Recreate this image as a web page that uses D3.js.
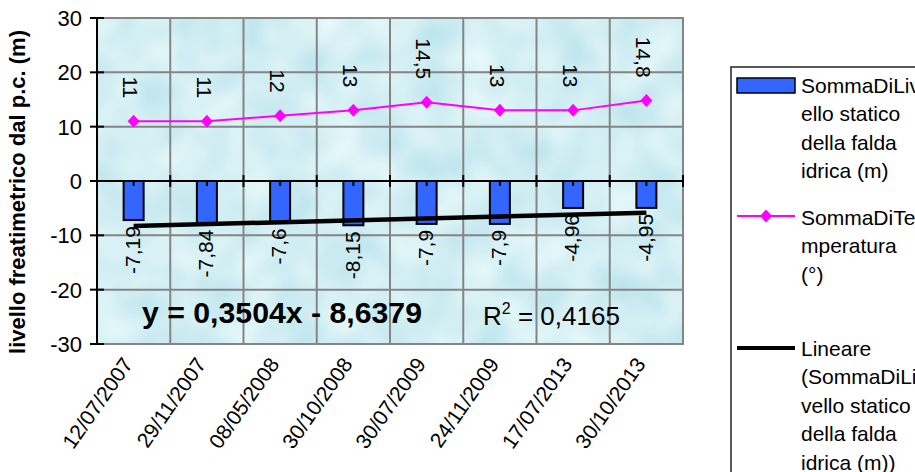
<!DOCTYPE html>
<html>
<head>
<meta charset="utf-8">
<script src="https://cdn.jsdelivr.net/npm/d3@7/dist/d3.min.js"></script>
<style>
  html, body { margin: 0; padding: 0; background: #fff; }
  svg { display: block; font-family: "Liberation Sans", Arial, sans-serif; }
</style>
</head>
<body>
<svg id="chart" width="915" height="472"></svg>
<script>
const categories = ["12/07/2007", "29/11/2007", "08/05/2008", "30/10/2008", "30/07/2009", "24/11/2009", "17/07/2013", "30/10/2013"];
const livello = [-7.19, -7.84, -7.6, -8.15, -7.9, -7.9, -4.96, -4.95];
const temperatura = [11, 11, 12, 13, 14.5, 13, 13, 14.8];
const livelloLabels = ["-7,19", "-7,84", "-7,6", "-8,15", "-7,9", "-7,9", "-4,96", "-4,95"];
const temperaturaLabels = ["11", "11", "12", "13", "14,5", "13", "13", "14,8"];
const yTicks = [-30, -20, -10, 0, 10, 20, 30];
const trendSlope = 0.3504;
const trendIntercept = -8.6379;
const equationText = "y = 0,3504x - 8,6379";
const r2Value = "0,4165";
const yTitle = "livello freatimetrico dal p.c. (m)";
const legendItems = [
  { type: "bar", lines: ["SommaDiLiv", "ello statico", "della falda", "idrica (m)"] },
  { type: "line", lines: ["SommaDiTe", "mperatura", "(°)"] },
  { type: "trend", lines: ["Lineare", "(SommaDiLi", "vello statico", "della falda", "idrica (m))"] }
];

const svg = d3.select("#chart");
const L = 97, R = 683, T = 18, B = 344;

const x = d3.scaleBand().domain(categories).range([L, R]).padding(0);
const y = d3.scaleLinear().domain([-30, 30]).range([B, T]);
const cx = c => x(c) + x.bandwidth() / 2;

// texture
const defs = svg.append("defs");
const f = defs.append("filter").attr("id", "tex").attr("x", 0).attr("y", 0).attr("width", 1).attr("height", 1);
f.append("feTurbulence").attr("type", "fractalNoise").attr("baseFrequency", "0.022").attr("numOctaves", 2).attr("seed", 7);
f.append("feColorMatrix").attr("type", "matrix")
  .attr("values", "0.42 0 0 0 0.44  0.24 0 0 0 0.74  0.16 0 0 0 0.82  0 0 0 0 1");

svg.append("rect").attr("x", L).attr("y", T).attr("width", R - L).attr("height", B - T)
  .attr("fill", "#aedfea");
svg.append("rect").attr("x", L).attr("y", T).attr("width", R - L).attr("height", B - T)
  .attr("filter", "url(#tex)");

// gridlines
const grid = svg.append("g").attr("stroke", "#858585").attr("stroke-width", 2);
yTicks.forEach(t => {
  grid.append("line").attr("x1", L).attr("x2", R).attr("y1", y(t)).attr("y2", y(t));
});
categories.forEach(c => {
  grid.append("line").attr("x1", x(c) + x.bandwidth()).attr("x2", x(c) + x.bandwidth()).attr("y1", T).attr("y2", B);
});
grid.append("rect").attr("x", L).attr("y", T).attr("width", R - L).attr("height", B - T).attr("fill", "none");

// bars
const bw = 20;
svg.append("g").selectAll("rect").data(livello).join("rect")
  .attr("x", (d, i) => cx(categories[i]) - bw / 2)
  .attr("y", y(0))
  .attr("width", bw)
  .attr("height", d => y(d) - y(0))
  .attr("fill", "#3366ff").attr("stroke", "#000").attr("stroke-width", 2);

// zero axis
const ax = svg.append("g").attr("stroke", "#000").attr("stroke-width", 2);
ax.append("line").attr("x1", L).attr("x2", R + 1).attr("y1", y(0)).attr("y2", y(0));
categories.forEach((c, i) => {
  const bx = x(c) + x.bandwidth();
  ax.append("line").attr("x1", bx).attr("x2", bx).attr("y1", y(0) - 6).attr("y2", y(0) + 6);
  ax.append("line").attr("x1", cx(c)).attr("x2", cx(c)).attr("y1", y(0)).attr("y2", y(0) + 5);
});
// y axis
ax.append("line").attr("x1", L).attr("x2", L).attr("y1", T - 1).attr("y2", B + 1);
yTicks.forEach(t => {
  ax.append("line").attr("x1", L - 7).attr("x2", L + 7).attr("y1", y(t)).attr("y2", y(t));
});

// y tick labels
svg.append("g").selectAll("text").data(yTicks).join("text")
  .attr("x", 82).attr("y", d => y(d)).attr("dy", "0.36em")
  .attr("text-anchor", "end").attr("font-size", 22).attr("fill", "#000")
  .text(d => d);

// y title
svg.append("text")
  .attr("transform", `translate(25,192) rotate(-90)`)
  .attr("text-anchor", "middle").attr("font-size", 22).attr("font-weight", "bold")
  .text(yTitle);

// x labels
svg.append("g").selectAll("text").data(categories).join("text")
  .attr("transform", d => `translate(${cx(d) - 6},${B + 16}) rotate(-55)`)
  .attr("dy", "0.35em").attr("text-anchor", "end").attr("font-size", 21)
  .text(d => d);

// trend line
const trendPts = [1, categories.length].map(k => [cx(categories[k - 1]), y(trendSlope * k + trendIntercept)]);
svg.append("path").attr("d", d3.line()(trendPts)).attr("stroke", "#000").attr("stroke-width", 4.5).attr("fill", "none");

// temperature line
svg.append("path")
  .attr("d", d3.line().x((d, i) => cx(categories[i])).y(d => y(d))(temperatura))
  .attr("stroke", "#ff00ff").attr("stroke-width", 2).attr("fill", "none");
svg.append("g").selectAll("path").data(temperatura).join("path")
  .attr("transform", (d, i) => `translate(${cx(categories[i])},${y(d)})`)
  .attr("d", "M0,-6.5L6,0L0,6.5L-6,0Z")
  .attr("fill", "#ff00ff");

// labels temperature
svg.append("g").selectAll("text").data(temperatura).join("text")
  .attr("transform", (d, i) => `translate(${cx(categories[i]) - 3},${y(d) - 23}) rotate(90)`)
  .attr("text-anchor", "end").attr("dy", "0.35em").attr("font-size", 21)
  .text((d, i) => temperaturaLabels[i]);

// labels bars
svg.append("g").selectAll("text").data(livello).join("text")
  .attr("transform", (d, i) => `translate(${cx(categories[i]) - 1},${y(d) + 6}) rotate(-90)`)
  .attr("text-anchor", "end").attr("dy", "0.35em").attr("font-size", 21)
  .text((d, i) => livelloLabels[i]);

// equation
svg.append("text").attr("x", 142).attr("y", 323).attr("font-size", 29).attr("font-weight", "bold")
  .attr("textLength", 280).attr("lengthAdjust", "spacingAndGlyphs")
  .text(equationText);
// R2
const r2 = svg.append("text").attr("x", 483).attr("y", 325).attr("font-size", 26);
r2.append("tspan").text("R");
r2.append("tspan").attr("font-size", 16).attr("dy", -11).text("2");
r2.append("tspan").attr("dy", 11).text(" = " + r2Value);

// legend
const lg = svg.append("g");
lg.append("rect").attr("x", 731).attr("y", 67).attr("width", 300).attr("height", 500)
  .attr("fill", "#fff").attr("stroke", "#222").attr("stroke-width", 1.5);
const itemTops = [85, 217, 348];
const lineGap = 28.5;
legendItems.forEach((it, k) => {
  const y0 = itemTops[k];
  if (it.type === "bar") {
    lg.append("rect").attr("x", 737).attr("y", y0 - 7).attr("width", 58).attr("height", 15)
      .attr("fill", "#3366ff").attr("stroke", "#000").attr("stroke-width", 1.5);
  } else if (it.type === "line") {
    lg.append("line").attr("x1", 737).attr("x2", 795).attr("y1", y0 - 1).attr("y2", y0 - 1)
      .attr("stroke", "#ff00ff").attr("stroke-width", 2);
    lg.append("path").attr("transform", `translate(766,${y0 - 1})`).attr("d", "M0,-6.5L6,0L0,6.5L-6,0Z").attr("fill", "#ff00ff");
  } else {
    lg.append("line").attr("x1", 737).attr("x2", 795).attr("y1", y0).attr("y2", y0)
      .attr("stroke", "#000").attr("stroke-width", 4);
  }
  it.lines.forEach((ln, j) => {
    lg.append("text").attr("x", 801).attr("y", y0 + j * lineGap).attr("dy", "0.36em")
      .attr("font-size", 21).text(ln);
  });
});
</script>
</body>
</html>
